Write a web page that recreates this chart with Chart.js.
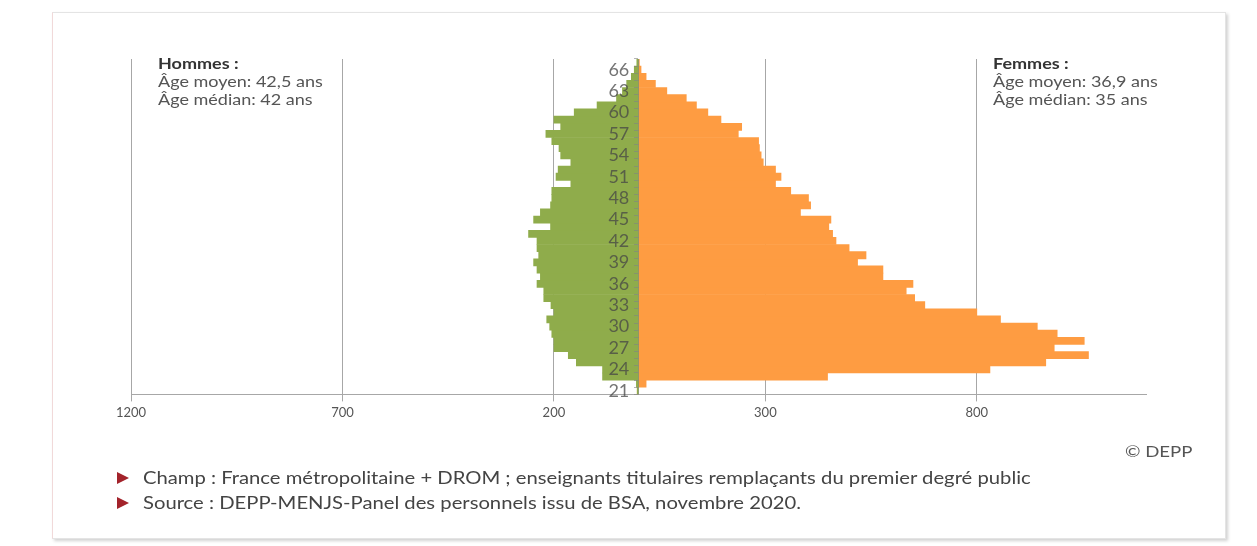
<!DOCTYPE html>
<html>
<head>
<meta charset="utf-8">
<script src="https://cdn.jsdelivr.net/npm/chart.js@4.4.1/dist/chart.umd.min.js"></script>
<style>
  html, body { margin: 0; padding: 0; background: #fff; }
  #wrap { position: relative; width: 1257px; height: 546px; overflow: hidden; font-family: Lato, "Noto Sans", sans-serif; }
  #frame { position: absolute; left: 52px; top: 12px; width: 1172px; height: 525px;
           border: 1px solid #e4e4e4; border-left-color: #f1d9d9; box-shadow: 2px 2px 3px rgba(0,0,0,0.18); }
  canvas { position: absolute; left: 0; top: 0; }
  .note { position: absolute; font-size: 15px; line-height: 18px; color: #555; white-space: nowrap;
          transform: scaleX(1.2); transform-origin: 0 0; }
  .note b { color: #333; }
  .foot { position: absolute; left: 143px; font-size: 17px; color: #444; white-space: nowrap;
          transform: scaleX(1.19); transform-origin: 0 0; }
  .tri { position: absolute; left: 117px; width: 0; height: 0; border-style: solid;
         border-width: 6px 0 6px 12px; border-color: transparent transparent transparent #a3232b; }
  #depp { position: absolute; right: 65px; top: 442px; font-size: 15px; color: #555; white-space: nowrap;
          transform: scaleX(1.24); transform-origin: 100% 0; }
</style>
</head>
<body>
<div id="wrap">
  <div id="frame"></div>
  <canvas id="c" width="1257" height="546"></canvas>
  <div class="note" style="left:158px; top:54px;"><b>Hommes :</b><br>Âge moyen: 42,5 ans<br>Âge médian: 42 ans</div>
  <div class="note" style="left:993px; top:54px;"><b>Femmes :</b><br>Âge moyen: 36,9 ans<br>Âge médian: 35 ans</div>
  <div id="depp">© DEPP</div>
  <div class="tri" style="top:472px;"></div>
  <div class="foot" style="top:467px;">Champ : France métropolitaine + DROM ; enseignants titulaires remplaçants du premier degré public</div>
  <div class="tri" style="top:497px;"></div>
  <div class="foot" style="top:492px;">Source : DEPP-MENJS-Panel des personnels issu de BSA, novembre 2020.</div>
</div>
<script>
// ages, youngest first
const ages = [21, 22, 23, 24, 25, 26, 27, 28, 29, 30, 31, 32, 33, 34, 35, 36,
  37, 38, 39, 40, 41, 42, 43, 44, 45, 46, 47, 48, 49, 50, 51, 52,
  53, 54, 55, 56, 57, 58, 59, 60, 61, 62, 63, 64, 65, 66, 67];

const hommes = [3, 5, 85, 85, 147, 166, 200, 200, 205, 210, 217, 200, 207, 224, 224, 240,
  232, 240, 248, 236, 240, 240, 260, 208, 248, 232, 208, 205, 205, 160, 195, 190,
  160, 184, 188, 205, 219, 184, 200, 152, 98, 52, 38, 28, 17, 10, 4];

const femmes = [0, 18, 447, 831, 963, 1064, 983, 1054, 990, 943, 856, 800, 677, 653, 633, 649,
  578, 578, 518, 538, 498, 467, 459, 450, 455, 383, 407, 402, 360, 324, 337, 324,
  295, 290, 286, 284, 236, 244, 195, 164, 137, 113, 67, 40, 18, 6, 2];

const xTicks = [-1200, -700, -200, 300, 800];
const ageLabels = [21, 24, 27, 30, 33, 36, 39, 42, 45, 48, 51, 54, 57, 60, 63, 66];

const gridGrey = '#a7a7a7';

new Chart(document.getElementById('c'), {
  type: 'bar',
  data: {
    labels: ages.map(String),
    datasets: [
      {
        label: 'Hommes',
        data: hommes.map(v => -v),
        backgroundColor: '#8fac4b',
        borderWidth: 0,
        barPercentage: 1,
        categoryPercentage: 1
      },
      {
        label: 'Femmes',
        data: femmes,
        backgroundColor: '#fe9c42',
        borderWidth: 0,
        barPercentage: 1,
        categoryPercentage: 1
      }
    ]
  },
  options: {
    indexAxis: 'y',
    responsive: false,
    animation: false,
    layout: { padding: { left: 131, right: 111, top: 59, bottom: 121 } },
    plugins: { legend: { display: false }, tooltip: { enabled: false } },
    scales: {
      x: {
        type: 'linear',
        stacked: true,
        min: -1200,
        max: 1200,
        afterBuildTicks: s => { s.ticks = xTicks.map(v => ({ value: v })); },
        ticks: {
          callback: v => String(Math.abs(v)),
          color: '#555',
          font: { family: 'Lato', size: 13 },
          padding: 4,
          maxRotation: 0
        },
        grid: { color: gridGrey, lineWidth: 1, tickLength: 7 },
        border: { color: gridGrey, width: 1 }
      },
      y: {
        stacked: true,
        reverse: true,
        position: { x: 0 },
        ticks: {
          z: 1,
          autoSkip: false,
          // padding is not applied when the axis sits at x = 0, so the
          // trailing spaces push the age labels off the centre line
          callback: function (v, i) {
            const a = ages[i];
            return ageLabels.includes(a) ? a + '  ' : '';
          },
          color: 'rgba(70,70,70,0.75)',
          font: { family: 'Lato', size: 18 }
        },
        grid: { z: 1, drawOnChartArea: false, drawTicks: true, tickLength: 4, color: 'rgba(130,130,130,0.6)' },
        border: { z: 1, display: true, color: 'rgba(130,130,130,0.5)', width: 1 }
      }
    }
  }
});
</script>
</body>
</html>
